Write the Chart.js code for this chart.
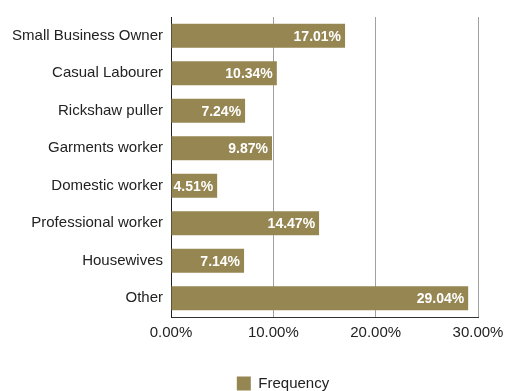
<!DOCTYPE html>
<html>
<head>
<meta charset="utf-8">
<script src="https://cdn.jsdelivr.net/npm/chart.js@4"></script>
<style>
html, body { margin: 0; padding: 0; background: #fff; }
#wrap { width: 507px; height: 391px; }
</style>
</head>
<body>
<div id="wrap"><canvas id="occChart" width="507" height="391"></canvas></div>
<script>
// occupations and their share of respondents (%)
const categories = [
  "Small Business Owner",
  "Casual Labourer",
  "Rickshaw puller",
  "Garments worker",
  "Domestic worker",
  "Professional worker",
  "Housewives",
  "Other"
];
const frequency = [17.01, 10.34, 7.24, 9.87, 4.51, 14.47, 7.14, 29.04];
const xTicks = [0, 10, 20, 30];

const barColor = "#968652";

// value labels drawn inside the end of each bar
const barLabels = {
  id: "barLabels",
  afterDatasetsDraw(chart) {
    const ctx = chart.ctx;
    const meta = chart.getDatasetMeta(0);
    ctx.save();
    ctx.font = "bold 14px 'Liberation Sans', Arial, sans-serif";
    ctx.fillStyle = "#ffffff";
    ctx.textAlign = "right";
    ctx.textBaseline = "middle";
    meta.data.forEach((bar, i) => {
      ctx.fillText(frequency[i].toFixed(2) + "%", bar.x - 4, bar.y + 1);
    });
    ctx.restore();
  }
};

// nudge the legend right and down a little
const legendShift = {
  id: "legendShift",
  afterLayout(chart) {
    const lg = chart.legend;
    lg.left += 44;
    lg.right += 44;
    lg.top += 10;
    lg.bottom += 10;
  }
};

Chart.defaults.font.family = "'Liberation Sans', Arial, sans-serif";
Chart.defaults.font.size = 15;
Chart.defaults.color = "#222";

new Chart(document.getElementById("occChart"), {
  type: "bar",
  data: {
    labels: categories,
    datasets: [{
      label: "Frequency",
      data: frequency,
      backgroundColor: barColor,
      borderWidth: 0,
      categoryPercentage: 1,
      barPercentage: 0.64
    }]
  },
  options: {
    indexAxis: "y",
    responsive: false,
    animation: false,
    layout: { padding: { top: 10, right: 29, left: 0, bottom: 0 } },
    scales: {
      x: {
        min: 0,
        max: 30,
        afterBuildTicks: (axis) => { axis.ticks = xTicks.map(v => ({ value: v })); },
        afterFit: (axis) => {
          axis.height += 15;
          axis.paddingLeft = 0;
          axis.paddingRight = 0;
        },
        ticks: {
          padding: 7,
          callback: (v) => Number(v).toFixed(2) + "%"
        },
        grid: { color: "#a0a0a0", lineWidth: 1, drawTicks: false },
        border: { color: "#333", width: 1 }
      },
      y: {
        afterFit: (axis) => { axis.width = 171; },
        ticks: { padding: 8 },
        grid: { display: false, drawTicks: false },
        border: { color: "#222", width: 1 }
      }
    },
    plugins: {
      legend: {
        position: "bottom",
        labels: {
          boxWidth: 14,
          boxHeight: 14,
          padding: 2,
          color: "#222"
        }
      },
      tooltip: { enabled: false }
    }
  },
  plugins: [barLabels, legendShift]
});
</script>
</body>
</html>
